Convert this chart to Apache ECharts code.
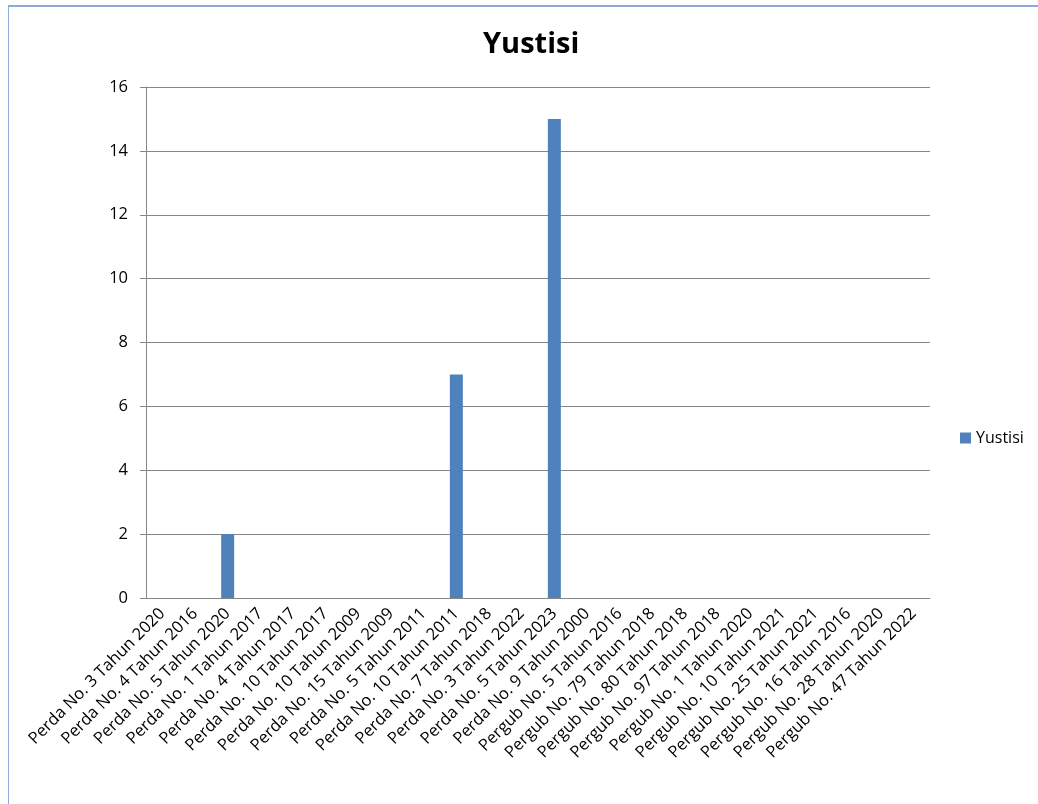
<!DOCTYPE html>
<html>
<head>
<meta charset="utf-8">
<script src="https://cdn.jsdelivr.net/npm/echarts@6/dist/echarts.min.js"></script>
<style>
  html, body { margin: 0; padding: 0; background: #fff; }
  #frame { position: absolute; left: 0; top: 0; width: 1038px; height: 804px; }
  #border { position: absolute; left: 8px; top: 5px; width: 1030px; height: 799px;
            border-left: 1px solid #8eaadb; border-top: 2px solid #8eaadb; box-sizing: border-box; pointer-events: none; }
</style>
</head>
<body>
<div id="frame"></div>
<div id="border"></div>
<script>
var categories = ['Perda No. 3 Tahun 2020', 'Perda No. 4 Tahun 2016', 'Perda No. 5 Tahun 2020', 'Perda No. 1 Tahun 2017',
  'Perda No. 4 Tahun 2017', 'Perda No. 10 Tahun 2017', 'Perda No. 10 Tahun 2009', 'Perda No. 15 Tahun 2009',
  'Perda No. 5 Tahun 2011', 'Perda No. 10 Tahun 2011', 'Perda No. 7 Tahun 2018', 'Perda No. 3 Tahun 2022',
  'Perda No. 5 Tahun 2023', 'Perda No. 9 Tahun 2000', 'Pergub No. 5 Tahun 2016', 'Pergub No. 79 Tahun 2018',
  'Pergub No. 80 Tahun 2018', 'Pergub No. 97 Tahun 2018', 'Pergub No. 1 Tahun 2020', 'Pergub No. 10 Tahun 2021',
  'Pergub No. 25 Tahun 2021', 'Pergub No. 16 Tahun 2016', 'Pergub No. 28 Tahun 2020', 'Pergub No. 47 Tahun 2022'];
var yustisi = [null, null, 2, null, null, null, null, null, null, 7, null, null,
  15, null, null, null, null, null, null, null, null, null, null, null];

var chart = echarts.init(document.getElementById('frame'));

chart.setOption({
  animation: false,
  textStyle: { fontFamily: 'Open Sans' },
  title: {
    text: 'Yustisi',
    left: 478,
    top: 25,
    textStyle: { fontSize: 29, fontWeight: 'bold', color: '#000', fontFamily: 'Open Sans' }
  },
  color: '#4f81bd',
  legend: {
    orient: 'vertical',
    left: 955,
    top: 425,
    itemWidth: 11,
    itemHeight: 11,
    itemGap: 6,
    textStyle: { fontSize: 16, color: '#000' },
    data: [{ name: 'Yustisi', icon: 'rect' }]
  },
  grid: {
    left: 146,
    right: 108,
    top: 87,
    bottom: 206
  },
  xAxis: {
    type: 'category',
    data: categories,
    axisLine: { lineStyle: { color: '#868686' } },
    axisTick: { length: 6, lineStyle: { color: '#868686' } },
    axisLabel: {
      interval: 0,
      rotate: 45,
      margin: 13,
      fontSize: 16.5,
      color: '#000'
    }
  },
  yAxis: {
    type: 'value',
    min: 0,
    max: 16,
    interval: 2,
    axisLine: { show: true, lineStyle: { color: '#868686' } },
    axisTick: { show: true, length: 6, inside: false, lineStyle: { color: '#868686' } },
    axisLabel: { fontSize: 16.5, color: '#000', margin: 18 },
    splitLine: { lineStyle: { color: '#868686' } }
  },
  series: [{
    name: 'Yustisi',
    type: 'bar',
    barWidth: 13,
    data: yustisi
  }]
});
</script>
</body>
</html>
